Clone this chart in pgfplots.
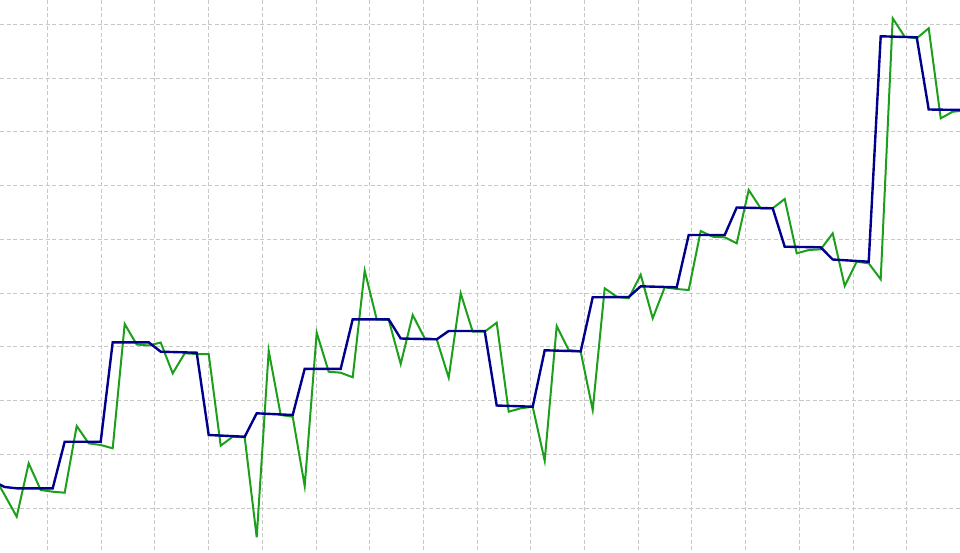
\documentclass[border=0pt]{standalone}
\usepackage{pgfplots}
\pgfplotsset{compat=1.18}

\definecolor{lineGreen}{RGB}{28,160,28}
\definecolor{lineBlue}{RGB}{0,0,140}
\definecolor{gridGray}{RGB}{200,200,200}

\begin{document}
\begin{tikzpicture}
  \begin{axis}[
      name=main,
      scale only axis,
      width=960pt, height=552pt,
      xmin=0, xmax=960,
      ymin=0, ymax=552,
      y dir=reverse,
      axis line style={draw=none},
      tick style={draw=none},
      xtick={47.5,101.2,...,960},
      ytick={24.3,78.05,...,552},
      xticklabels={}, yticklabels={},
      grid=major,
      major grid style={gridGray, line width=1pt, dash pattern=on 4pt off 2.5pt},
  ]

    % green series
    \addplot[lineGreen, line width=2pt] coordinates {
      (-7.3,474) (4.7,495) (16.7,516.7) (28.7,463.3) (40.7,490) (52.7,491.7)
      (64.7,492.7) (76.7,426) (88.7,443.3) (100.7,445) (112.7,448.3)
      (124.7,324) (136.7,344.5) (148.7,345.5) (160.7,342.5) (172.7,373.3)
      (184.7,353.3) (196.7,354) (208.7,354) (220.7,445.7) (232.7,436.7)
      (244.7,437.3) (256.7,537.3) (268.7,350.7) (280.7,415) (292.7,416.7)
      (304.7,486) (316.7,332.7) (328.7,371.7) (340.7,372.7) (352.7,377.3)
      (364.7,270.7) (376.7,319.3) (388.7,319.8) (400.7,364) (412.7,315)
      (424.7,338.3) (436.7,339.3) (448.7,377.7) (460.7,293.3) (472.7,331.7)
      (484.7,331.7) (496.7,322.7) (508.7,411.7) (520.7,408.3) (532.7,406.7)
      (544.7,460.7) (556.7,326) (568.7,350) (580.7,351.7) (592.7,410)
      (604.7,288.3) (616.7,296.7) (628.7,298.3) (640.7,274.7) (652.7,318.3)
      (664.7,287.3) (676.7,289) (688.7,290) (700.7,231) (712.7,236.7)
      (724.7,237.3) (736.7,243.3) (748.7,190) (760.7,208.3) (772.7,208.3)
      (784.7,199) (796.7,253.3) (808.7,250) (820.7,249.3) (832.7,233.3)
      (844.7,286) (856.7,261.7) (868.7,263.3) (880.7,279.3) (892.7,18.3)
      (904.7,36.7) (916.7,38.3) (928.7,28.3) (940.7,118.3) (952.7,111.7)
      (964.7,110.5)
    };

    % blue series
    \addplot[lineBlue, line width=2.4pt] coordinates {
      (-7.3,481) (4.7,487) (16.7,488.3) (52.7,488.3) (64.7,441.7) (100.7,441.7)
      (112.7,342.3) (148.7,342.3) (160.7,351.7) (196.7,352.7) (208.7,435)
      (244.7,436.7) (256.7,413.3) (292.7,415) (304.7,368.8) (340.7,368.8)
      (352.7,319.3) (388.7,319.3) (400.7,338.5) (436.7,339.3) (448.7,331)
      (484.7,331) (496.7,405.5) (532.7,406.7) (544.7,350.3) (580.7,351.3)
      (592.7,297.3) (628.7,297) (640.7,286.3) (676.7,287.3) (688.7,235)
      (724.7,235) (736.7,207.5) (772.7,208.3) (784.7,246.7) (820.7,247.3)
      (832.7,259.5) (868.7,261.7) (880.7,36.3) (916.7,37.3) (928.7,109.5)
      (964.7,110)
    };
  \end{axis}
  \pgfresetboundingbox
  \path[use as bounding box] (main.south west) rectangle (main.north east);
\end{tikzpicture}
\end{document}
